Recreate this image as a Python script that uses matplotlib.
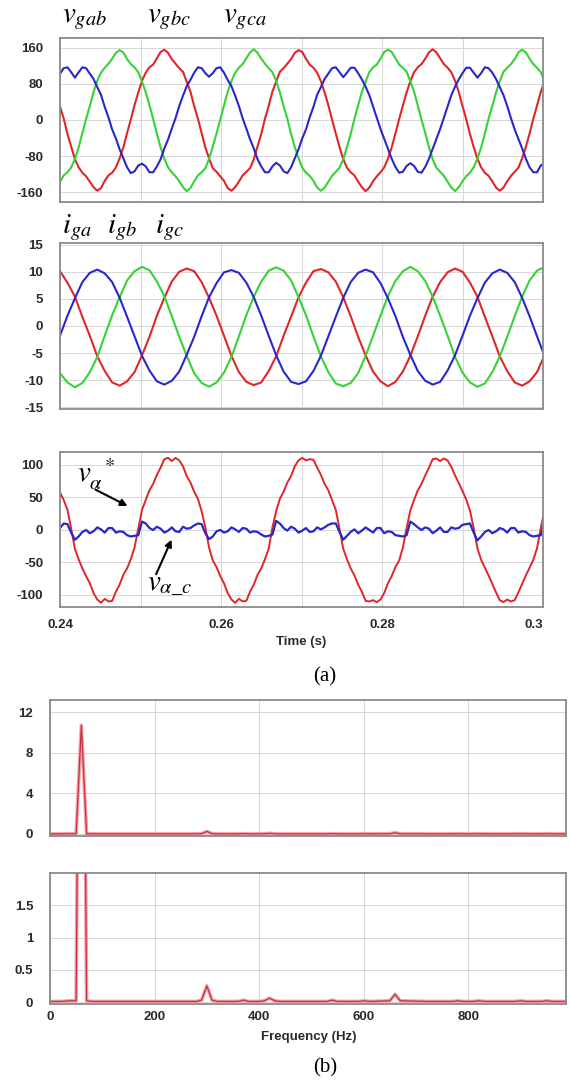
import matplotlib
matplotlib.use("Agg")
import matplotlib.pyplot as plt
import numpy as np

plt.rcParams.update({
    "font.family": "Liberation Sans",
    "mathtext.fontset": "stix",
    "axes.unicode_minus": False,
})

# ---- (a) top: grid line-to-line voltages, sampled every T/36 (T = 1/60 s)
t_v = 0.24 + np.arange(131) / 2160.0
v_red = [
    30, 3, -31, -59, -87, -105, -117, -125, -137, -149, -157, -151, -135, -123,
    -117, -105, -85, -61, -29, 1, 33, 61, 87, 105, 117, 123, 137, 151,
    156, 149, 135, 125, 115, 107, 85, 63, 31, 3, -29, -61, -85, -107, -115, -125,
    -135, -151, -157, -149, -137, -123, -115, -107, -87, -59, -31, 3, 31, 63, 85,
    107, 115, 125, 135, 149,
    155, 151, 136, 123, 116, 105, 86, 61, 33, 1, -30, -60, -87, -106, -116, -123,
    -137, -149, -158, -150, -136, -125, -116, -105, -86, -61, -30, 2, 32, 61, 86,
    106, 117, 124, 136, 150,
    157, 150, 137, 124, 116, 106, 87, 62, 31, 2, -31, -60, -86, -105, -117, -124,
    -136, -150, -157, -150, -136, -124, -115, -106, -85, -60, -30, 3, 32, 62, 86,
]
v_green = [
    -137, -123, -116, -105, -87, -61, -29, 2, 31, 62, 87, 105, 116, 125, 136, 149,
    155, 150, 135, 124, 117, 106, 85, 62, 33, 2, -30, -61, -86, -105, -116, -125,
    -136, -149, -158, -151, -136, -123, -116, -107, -86, -59, -30, 1, 32, 63, 86,
    105, 116, 124, 137, 150,
    157, 149, 136, 125, 115, 106, 87, 61, 31, 3, -31, -60, -85, -106, -117, -124,
    -135, -150, -157, -150, -137, -124, -115, -106, -87, -60, -31, 2, 33, 62, 85,
    106, 117, 123, 136, 151,
    156, 151, 137, 123, 116, 107, 86, 63, 32, 1, -29, -60, -87, -106, -115, -124,
    -137, -150, -158, -149, -136, -125, -117, -105, -86, -61, -30, 3, 31, 61, 86,
    107, 116, 124, 135, 150,
    156, 150, 136, 124, 116, 106, 86,
]
v_blue = [
    103, 115, 117, 106,
    94, 106, 117, 115, 103, 91, 73, 56, 29, 6, -21, -41, -65, -85, -105, -118,
    -114, -101, -97, -103, -116, -116, -103, -87, -63, -43, -19, 4, 31, 54, 75,
    89, 105, 117, 115, 104,
    96, 104, 115, 117, 105, 89, 75, 54, 31, 4, -19, -43, -63, -87, -103, -116,
    -116, -103, -95, -101, -114, -118, -105, -85, -65, -41, -21, 6, 29, 56, 73,
    91, 103, 115, 117, 106,
    95, 105, 116, 116, 104, 90, 74, 55, 30, 5, -20, -42, -64, -86, -104, -117,
    -115, -102, -96, -102, -115, -117, -104, -86, -64, -42, -20, 5, 30, 55, 74,
    90, 104, 116, 116, 105,
    94, 104, 117, 115, 105, 91, 73, 55, 31, 4, -21, -42, -63, -86, -105, -116,
    -116, -101, -96,
]

# ---- (a) middle: grid currents, sampled every T/18
t_i = 0.24 + np.arange(66) / 1080.0
i_red = [
    10.1, 8.0, 5.4, 1.7, -1.8, -5.6, -8.3, -10.4, -11.0, -10.2, -8.5, -5.4, -2.0,
    1.9, 5.2, 8.2, 10.0,
    10.6, 10.1, 8.1, 5.2, 1.9, -1.8, -5.5, -8.5, -10.3, -10.9, -10.4, -8.3, -5.6,
    -1.8, 1.7, 5.3, 8.0, 10.1,
    10.5, 9.9, 8.2, 5.3, 1.8, -2.0, -5.4, -8.4, -10.2, -11.1, -10.3, -8.4, -5.5,
    -1.9, 1.9, 5.4, 8.1, 9.9,
    10.6, 10.0, 8.0, 5.4, 1.7, -1.9, -5.6, -8.3, -10.4, -11.0, -10.2, -8.5, -5.4,
]
i_green = [
    -8.7, -10.4, -11.3, -10.5, -8.5, -5.7, -1.8, 2.0, 5.3, 8.4, 10.1,
    10.9, 10.3, 8.2, 5.5, 1.8, -2.0, -5.5, -8.7, -10.5, -11.2, -10.4, -8.6, -5.7,
    -1.9, 2.0, 5.4, 8.2, 10.2,
    10.8, 10.2, 8.4, 5.3, 2.0, -1.9, -5.6, -8.5, -10.6, -11.1, -10.5, -8.7, -5.5,
    -1.8, 1.9, 5.5, 8.3, 10.1,
    10.9, 10.1, 8.3, 5.4, 1.9, -1.8, -5.7, -8.6, -10.4, -11.2, -10.6, -8.5, -5.6,
    -2.0, 1.8, 5.4, 8.4, 10.2,
    10.9,
]
i_blue = [
    -1.8, 1.9, 5.1, 8.1, 9.8,
    10.4, 9.7, 8.1, 5.2, 1.7, -1.9, -5.5, -8.2, -10.2, -10.8, -10.1, -8.4, -5.3,
    -2.0, 1.8, 5.3, 7.9, 9.9,
    10.3, 9.8, 8.0, 5.3, 1.9, -1.8, -5.4, -8.4, -10.3, -10.7, -10.2, -8.3, -5.5,
    -1.9, 1.7, 5.2, 8.1, 9.8,
    10.4, 9.9, 7.9, 5.1, 1.8, -2.0, -5.3, -8.3, -10.1, -10.8, -10.3, -8.2, -5.4,
    -1.8, 1.9, 5.1, 8.0, 9.7,
    10.4, 9.8, 8.1, 5.2, 1.8, -1.9, -5.5,
]

# ---- (a) bottom: v_alpha* and v_alpha_c, sampled every T/36
v_alpha_ref = [
    58, 46, 31, 2, -29, -45, -59, -71, -82, -97, -107, -112, -106, -110, -109,
    -95, -84, -69, -59, -45, -27, 2, 31, 46, 61, 71, 85, 96, 109, 111,
    106, 111, 107, 98, 83, 73, 59, 48, 29, 4, -27, -47, -57, -71, -82, -97, -107,
    -112, -106, -110, -109, -95, -84, -69, -59, -45, -29, 4, 29, 48, 59, 73, 83,
    98, 107, 111,
    107, 109, 108, 96, 85, 71, 61, 46, 31, 2, -29, -45, -59, -70, -84, -95, -109,
    -110, -108, -111, -107, -97, -82, -71, -57, -47, -27, 3, 30, 46, 61, 71, 84,
    96, 109, 110,
    106, 110, 107, 97, 84, 72, 60, 47, 30, 3, -28, -46, -58, -70, -83, -96, -108,
    -111, -107, -110, -108, -96, -83, -70, -58, -46, -28, 3, 30,
]
v_alpha_c = [
    3, 10, 9, -4, -15, -10, -3, 0, -5, -2, 4, 1, -4, 3, 3, -4, -2, -3, -8, -10,
    -9, -8, 13, 10, 3, 0, 5, 2, -4, -1,
    4, -2, -3, 5, 2, 3, 7, 10, 9, -5, -14, -10, -2, 0, -4, -2, 4, 1, -3, 3, 2,
    -4, -2, -3, -7, -10, -9, -7, 14, 10, 3, -1, 5, 2, -4, -1,
    3, -3, -2, 4, 1, 4, 8, 10, 10, -3, -15, -9, -3, 1, -5, -1, 4, 0, -4, 3, 3,
    -5, -2, -3, -8, -9, -10, -8, 13, 9, 4, 0, 4, 2, -5, -1,
    4, -3, -3, 4, 2, 3, 8, 9, 10, -4, -16, -10, -3, 0, -5, -2, 3, 1, -4, 3, 3,
    -4, -2, -3, -8, -10, -9, -8, 12,
]

# ---- (b) spectrum
freq = [0, 20, 40, 50, 60, 70, 80, 120, 180, 240, 280, 290, 300, 310, 320,
        360, 370, 380, 400, 410, 420, 430, 440, 480, 530, 540, 550, 590, 600,
        610, 650, 660, 670, 720, 770, 780, 790, 810, 820, 830, 890, 900, 910,
        940, 950, 960, 990]
mag = [0.01, 0.01, 0.02, 0.02, 10.7, 0.02, 0.01, 0.01, 0.01, 0.01, 0.01, 0.03,
       0.25, 0.03, 0.01, 0.01, 0.03, 0.01, 0.01, 0.02, 0.06, 0.02, 0.01, 0.01,
       0.01, 0.03, 0.01, 0.01, 0.02, 0.01, 0.02, 0.12, 0.02, 0.01, 0.01, 0.02,
       0.01, 0.01, 0.02, 0.01, 0.01, 0.02, 0.01, 0.01, 0.02, 0.01, 0.01]

RED, GREEN, BLUE = "#e0252b", "#36d236", "#2727cc"
FRAME, GRID, TICK = "#8a8a8a", "#d6d6d6", "#2a2a2a"
TSIZE = 9.5

fig = plt.figure(figsize=(5.7, 10.81), dpi=100)

W, H = 570.0, 1081.0


def add_axes(left, right, top, bottom):
    return fig.add_axes([left / W, 1 - bottom / H, (right - left) / W,
                         (bottom - top) / H])


def style(ax, pad_y=12, pad_x=9):
    for sp in ax.spines.values():
        sp.set_color(FRAME)
        sp.set_linewidth(1.3)
    ax.grid(True, color=GRID, lw=0.7)
    ax.set_axisbelow(True)
    ax.tick_params(length=0, labelsize=TSIZE, labelcolor=TICK)
    ax.tick_params(axis="y", pad=pad_y)
    ax.tick_params(axis="x", pad=pad_x)
    for lab in ax.get_xticklabels() + ax.get_yticklabels():
        lab.set_fontweight("bold")


t_ticks = [0.24, 0.25, 0.26, 0.27, 0.28, 0.29, 0.30]
t_labels = ["0.24", "", "0.26", "", "0.28", "", "0.3"]

ax1 = add_axes(60, 543, 38, 202)
ax1.plot(t_v, v_red, color=RED, lw=1.5)
ax1.plot(t_v, v_green, color=GREEN, lw=1.5)
ax1.plot(t_v, v_blue, color=BLUE, lw=1.5)
ax1.set_ylim(-182, 182)
ax1.set_yticks([-160, -80, 0, 80, 160])

ax2 = add_axes(60, 543, 243, 409)
ax2.plot(t_i, i_red, color=RED, lw=1.5)
ax2.plot(t_i, i_green, color=GREEN, lw=1.5)
ax2.plot(t_i, i_blue, color=BLUE, lw=1.5)
ax2.set_ylim(-15.3, 15.3)
ax2.set_yticks([-15, -10, -5, 0, 5, 10, 15])

ax3 = add_axes(60, 543, 452, 607)
ax3.plot(t_v, v_alpha_ref, color=RED, lw=1.4)
ax3.plot(t_v, v_alpha_c, color=BLUE, lw=1.6)
ax3.set_ylim(-118.5, 120)
ax3.set_yticks([-100, -50, 0, 50, 100])

for ax in (ax1, ax2, ax3):
    ax.set_xlim(0.24, 0.30)
    ax.set_xticks(t_ticks)
    ax.set_xticklabels(t_labels if ax is ax3 else [""] * len(t_ticks))
    style(ax, pad_x=9)
ax3.get_xticklabels()[-1].set_ha("right")

# series labels
lab_kw = dict(fontsize=21, ha="left", va="baseline")
fig.text(62 / W, 1 - 22 / H, r"$v_{gab}$", **lab_kw)
fig.text(147 / W, 1 - 22 / H, r"$v_{gbc}$", **lab_kw)
fig.text(223 / W, 1 - 22 / H, r"$v_{gca}$", **lab_kw)
fig.text(62 / W, 1 - 233 / H, r"$i_{ga}$", **lab_kw)
fig.text(107 / W, 1 - 233 / H, r"$i_{gb}$", **lab_kw)
fig.text(155 / W, 1 - 233 / H, r"$i_{gc}$", **lab_kw)

ax3.text(0.2421, 74, r"$v_{\alpha}^{\ \ *}$", fontsize=21, va="baseline")
ax3.annotate("", xy=(0.2487, 35), xytext=(0.2441, 64),
             arrowprops=dict(arrowstyle="-|>", color="k", lw=1.5,
                             mutation_scale=10))
ax3.text(0.2508, -93, r"$v_{\alpha\_c}$", fontsize=21, va="baseline")
ax3.annotate("", xy=(0.2540, -11), xytext=(0.2518, -72),
             arrowprops=dict(arrowstyle="-|>", color="k", lw=1.5,
                             mutation_scale=10))

fig.text(301 / W, 1 - 642 / H, "Time (s)", ha="center", va="center",
         fontsize=TSIZE, fontweight="bold", color=TICK)
fig.text(325 / W, 1 - 677 / H, "(a)", ha="center", va="center",
         fontsize=15, family="Liberation Serif")

# spectrum panels
ax4 = add_axes(50, 566, 700, 836)
ax5 = add_axes(50, 566, 873, 1004)
for ax in (ax4, ax5):
    ax.plot(freq, mag, color="#f2a3aa", lw=2.6)
    ax.plot(freq, mag, color="#c8303c", lw=0.9)
    ax.set_xlim(0, 987)
    ax.set_xticks([0, 200, 400, 600, 800])
ax4.set_ylim(-0.2, 13.2)
ax4.set_yticks([0, 4, 8, 12])
ax4.set_xticklabels([""] * 5)
ax5.set_ylim(-0.03, 2.0)
ax5.set_yticks([0, 0.5, 1, 1.5])
ax5.set_yticklabels(["0", "0.5", "1", "1.5"])
style(ax4, pad_x=5)
style(ax5, pad_x=5)

fig.text(309 / W, 1 - 1037 / H, "Frequency (Hz)", ha="center", va="center",
         fontsize=TSIZE, fontweight="bold", color=TICK)
fig.text(325 / W, 1 - 1068 / H, "(b)", ha="center", va="center",
         fontsize=15, family="Liberation Serif")

fig.savefig("out.png", dpi=100)
